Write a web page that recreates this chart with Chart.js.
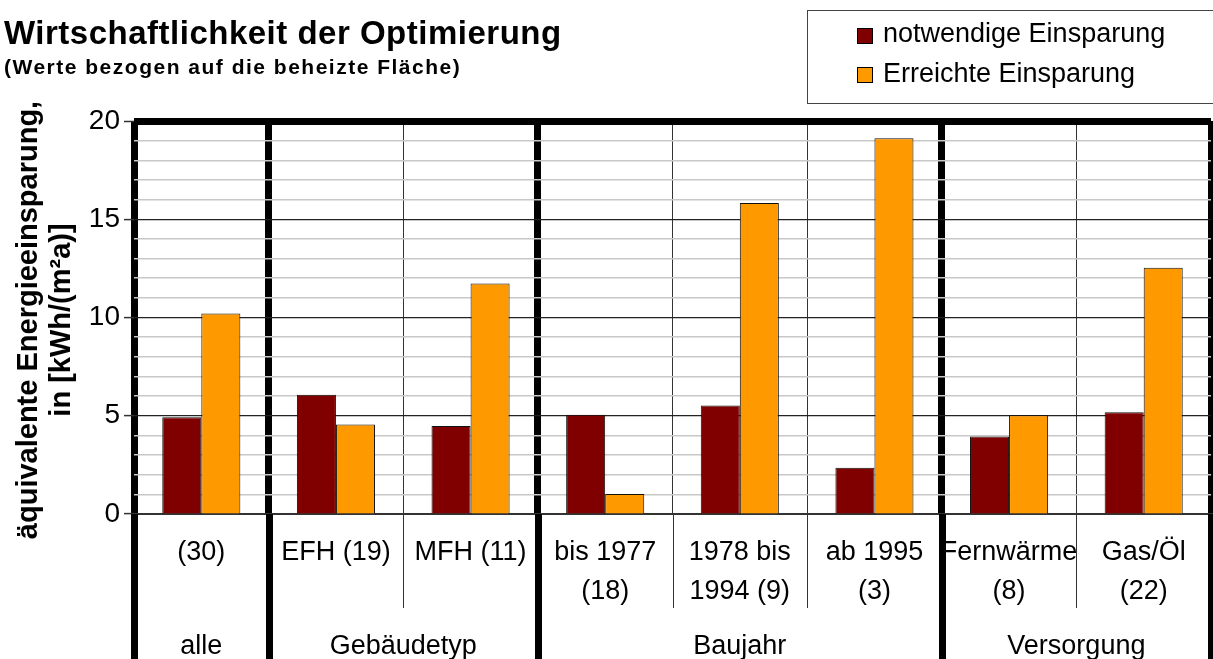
<!DOCTYPE html>
<html>
<head>
<meta charset="utf-8">
<script src="https://cdn.jsdelivr.net/npm/chart.js@4"></script>
<style>
  html, body { margin: 0; padding: 0; background: #fff; }
  canvas { display: block; }
</style>
</head>
<body>
<canvas id="chart" width="1213" height="659"></canvas>
<script>
const categories = [['(30)'], ['EFH (19)'], ['MFH (11)'], ['bis 1977', '(18)'], ['1978 bis', '1994 (9)'], ['ab 1995', '(3)'], ['Fernwärme', '(8)'], ['Gas/Öl', '(22)']]
const groups = ['alle', 'Gebäudetyp', 'Baujahr', 'Versorgung']
const groupSizes = [1, 2, 3, 2]
const notwendig = [4.93, 6.07, 4.48, 5.05, 5.52, 2.36, 3.95, 5.18]
const erreicht = [10.2, 4.56, 11.73, 1.02, 15.83, 19.12, 5.02, 12.53]
const yTicks = [0, 5, 10, 15, 20]

const FONT = "'Liberation Sans', Arial, sans-serif"
Chart.defaults.font.family = FONT
Chart.defaults.color = '#000'

// indices of the category boundaries that separate groups
const groupEdges = [0]
groupSizes.forEach(n => groupEdges.push(groupEdges[groupEdges.length - 1] + n))
const isGroupEdge = c => c.index === undefined || groupEdges.includes(c.index)

const decorations = {
    id: 'decorations',
    afterDraw(chart) {
        const ctx = chart.ctx
        const area = chart.chartArea
        const xs = chart.scales.x
        const half = (xs.getPixelForValue(1) - xs.getPixelForValue(0)) / 2
        const edgeX = i => xs.getPixelForValue(i) - half

        ctx.save()
        // divider lines below the axis
        for (let i = 0; i <= categories.length; i++) {
            const thick = groupEdges.includes(i)
            const x = Math.round(edgeX(i)) + 0.5
            ctx.beginPath()
            ctx.lineWidth = thick ? 7 : 1
            ctx.strokeStyle = thick ? '#000' : '#333'
            ctx.moveTo(x, area.bottom)
            ctx.lineTo(x, thick ? chart.height : 608)
            ctx.stroke()
        }

        // group labels
        ctx.fillStyle = '#000'
        ctx.font = '27px ' + FONT
        ctx.textAlign = 'center'
        ctx.textBaseline = 'alphabetic'
        groups.forEach((g, k) => {
            const mid = (edgeX(groupEdges[k]) + edgeX(groupEdges[k + 1])) / 2
            ctx.fillText(g, mid, 654)
        })

        // title and subtitle
        ctx.textAlign = 'left'
        ctx.font = 'bold 33px ' + FONT
        ctx.letterSpacing = '0.5px'
        ctx.fillText('Wirtschaftlichkeit der Optimierung', 4, 44)
        ctx.font = 'bold 21px ' + FONT
        ctx.letterSpacing = '1.5px'
        ctx.fillText('(Werte bezogen auf die beheizte Fläche)', 4, 74)
        ctx.letterSpacing = '0px'

        // y axis title
        ctx.save()
        ctx.translate(0, 320)
        ctx.rotate(-Math.PI / 2)
        ctx.textAlign = 'center'
        ctx.textBaseline = 'middle'
        ctx.font = 'bold 29px ' + FONT
        ctx.fillText('äquivalente Energieeinsparung,', 0, 29)
        ctx.fillText('in [kWh/(m²a)]', 0, 62)
        ctx.restore()

        // legend
        ctx.lineWidth = 1
        ctx.strokeStyle = '#444'
        ctx.strokeRect(807.5, 10.5, 420, 93)
        chart.data.datasets.forEach((ds, k) => {
            const y = 28.5 + k * 39
            ctx.fillStyle = ds.backgroundColor
            ctx.fillRect(857.5, y, 15, 15)
            ctx.strokeStyle = '#000'
            ctx.strokeRect(857.5, y, 15, 15)
            ctx.fillStyle = '#000'
            ctx.font = '27px ' + FONT
            ctx.textBaseline = 'alphabetic'
            ctx.fillText(ds.label, 883, 42 + k * 40)
        })
        ctx.restore()
    }
}

new Chart(document.getElementById('chart'), {
    type: 'bar',
    data: {
        labels: categories,
        datasets: [{
            label: 'notwendige Einsparung',
            data: notwendig,
            backgroundColor: '#800000',
            borderColor: '#111',
            borderWidth: 1,
        }, {
            label: 'Erreichte Einsparung',
            data: erreicht,
            backgroundColor: '#FF9900',
            borderColor: '#111',
            borderWidth: 1,
        }],
    },
    options: {
        responsive: false,
        animation: false,
        devicePixelRatio: 1,
        categoryPercentage: 0.58,
        barPercentage: 1,
        layout: { padding: { top: 121, left: 0, right: 2, bottom: 0 } },
        plugins: {
            legend: { display: false },
            tooltip: { enabled: false },
        },
        scales: {
            x: {
                grid: {
                    offset: true,
                    drawTicks: false,
                    color: c => isGroupEdge(c) ? '#000' : '#333',
                    lineWidth: c => isGroupEdge(c) ? 7 : 1,
                },
                border: { display: true, color: '#333', width: 2 },
                ticks: {
                    font: { size: 27, lineHeight: 1.45 },
                    color: '#000',
                    padding: 19,
                    maxRotation: 0,
                    autoSkip: false,
                },
                afterFit: s => { s.height = 145 },
            },
            y: {
                min: 0,
                max: 20,
                ticks: {
                    stepSize: 1,
                    maxTicksLimit: 30,
                    autoSkip: false,
                    padding: 4,
                    font: { size: 28 },
                    color: '#000',
                    callback: v => yTicks.includes(v) ? String(v) : '',
                },
                grid: {
                    color: c => c.tick.value === 20 ? '#000' : (c.tick.value % 5 === 0 ? '#222' : '#c8c8c8'),
                    lineWidth: c => c.tick.value === 20 ? 7 : (c.tick.value % 5 === 0 ? 1.2 : 1.5),
                    tickLength: 10,
                    tickWidth: 1.5,
                    tickColor: c => c.tick.value % 5 === 0 ? '#333' : 'rgba(0,0,0,0)',
                },
                border: { display: false },
                afterFit: s => { s.width = 134 },
            },
        },
    },
    plugins: [decorations],
})
</script>
</body>
</html>
